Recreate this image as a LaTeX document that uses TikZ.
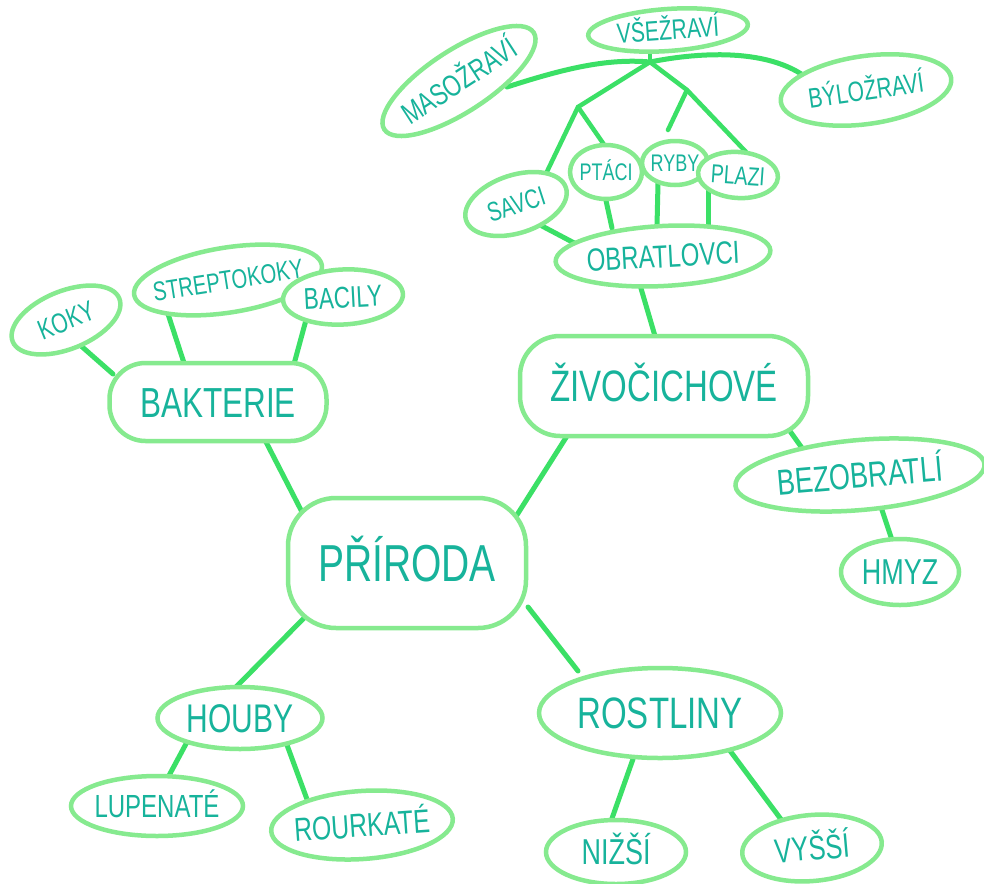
\documentclass[tikz,border=0pt]{standalone}
\usepackage{fontspec}
\setmainfont{Liberation Sans}[FakeStretch=0.75]
\usetikzlibrary{shapes.geometric}
\definecolor{ring}{HTML}{86EA8F}
\definecolor{link}{HTML}{3BE066}
\definecolor{ink}{HTML}{17B39B}
\pgfdeclarelayer{bg}
\pgfsetlayers{bg,main}
\newcommand\mmlab[1]{\makebox[0pt]{\smash{\raisebox{-0.36em}{#1}}}}
\tikzset{
  bub/.style={ellipse, draw=ring, line width=4.5pt, fill=white, inner sep=0pt, text=ink},
  blob/.style={rectangle, draw=ring, line width=4.5pt, fill=white, inner sep=0pt, text=ink, rounded corners=#1},
  fs/.style={font=\fontsize{#1}{#1}\selectfont},
  wire/.style={draw=link, line width=5pt, line cap=round, line join=round},
  twig/.style={draw=link, line width=4.5pt, line cap=round, line join=round},
}
\begin{document}
\begin{tikzpicture}[x=1pt,y=-1pt]
\useasboundingbox (0,0) rectangle (984,883);
\begin{pgfonlayer}{bg}
\fill[white] (0,0) rectangle (984,883);
\end{pgfonlayer}

% main
\node[blob=48, minimum width=238pt, minimum height=130pt, fs=52] (pri) at (407,563) {\mmlab{PŘÍRODA}};
\node[blob=40, minimum width=288pt, minimum height=100pt, fs=44] (ziv) at (664,386) {\mmlab{ŽIVOČICHOVÉ}};
\node[blob=36, minimum width=217pt, minimum height=78pt, fs=42] (bak) at (218,402) {\mmlab{BAKTERIE}};
\node[bub, minimum width=242pt, minimum height=90pt, fs=44] (rost) at (660,713) {\mmlab{ROSTLINY}};
\node[bub, minimum width=165pt, minimum height=62pt, fs=40] (houby) at (240,718) {\mmlab{HOUBY}};
% leaves
\node[bub, minimum width=172pt, minimum height=60pt, fs=32] (lup) at (157,806) {\mmlab{LUPENATÉ}};
\node[bub, rotate=4, minimum width=182pt, minimum height=68pt, fs=33] (rour) at (362,825) {\mmlab{ROURKATÉ}};
\node[bub, minimum width=140pt, minimum height=64pt, fs=36] (nizsi) at (616,852) {\mmlab{NIŽŠÍ}};
\node[bub, rotate=5, minimum width=140pt, minimum height=66pt, fs=34] (vyssi) at (812,848) {\mmlab{VYŠŠÍ}};
\node[bub, rotate=3, minimum width=215pt, minimum height=60pt, fs=32] (obrat) at (663,256) {\mmlab{OBRATLOVCI}};
\node[bub, rotate=18, minimum width=105pt, minimum height=58pt, fs=27] (savci) at (516,204) {\mmlab{SAVCI}};
\node[bub, minimum width=72pt, minimum height=54pt, fs=24] (ptaci) at (606,172) {\mmlab{PTÁCI}};
\node[bub, minimum width=66pt, minimum height=44pt, fs=24] (ryby) at (675,163) {\mmlab{RYBY}};
\node[bub, rotate=-4, minimum width=80pt, minimum height=46pt, fs=26] (plazi) at (738,175) {\mmlab{PLAZI}};
\node[bub, rotate=33, minimum width=178pt, minimum height=62pt, fs=30] (maso) at (459,81) {\mmlab{MASOŽRAVÍ}};
\node[bub, rotate=4, minimum width=160pt, minimum height=42pt, fs=28] (vse) at (668,30) {\mmlab{VŠEŽRAVÍ}};
\node[bub, rotate=8, minimum width=172pt, minimum height=68pt, fs=28] (bylo) at (866,90) {\mmlab{BÝLOŽRAVÍ}};
\node[bub, rotate=5, minimum width=250pt, minimum height=70pt, fs=36] (bezo) at (860,475) {\mmlab{BEZOBRATLÍ}};
\node[bub, minimum width=118pt, minimum height=66pt, fs=36] (hmyz) at (900,572) {\mmlab{HMYZ}};
\node[bub, rotate=22, minimum width=115pt, minimum height=58pt, fs=28] (koky) at (66,320) {\mmlab{KOKY}};
\node[bub, rotate=9, minimum width=190pt, minimum height=65pt, fs=27] (strep) at (228,280) {\mmlab{STREPTOKOKY}};
\node[bub, rotate=3, minimum width=120pt, minimum height=55pt, fs=30] (bacily) at (343,297) {\mmlab{BACILY}};

\coordinate (hub) at (650,62);
\coordinate (j1) at (578,107);
\coordinate (j2) at (687,90);

\begin{pgfonlayer}{bg}
\draw[wire] ([shift={(14,25)}]koky.center) -- ([shift={(-105,-28)}]bak.center);
\draw[wire] ([shift={(-60,34)}]strep.center) -- ([shift={(-33,-36)}]bak.center);
\draw[wire] ([shift={(-37,23)}]bacily.center) -- ([shift={(76,-38)}]bak.center);
\draw[wire] ([shift={(47,38)}]bak.center) -- ([shift={(-105,-51)}]pri.center);
\draw[wire] ([shift={(-97,50)}]ziv.center) -- ([shift={(108,-45)}]pri.center);
\draw[wire] ([shift={(-102,54)}]pri.center) -- ([shift={(-5,-30)}]houby.center);
\draw[wire] ([shift={(121,44)}]pri.center) -- ([shift={(-82,-42)}]rost.center);
\draw[wire] ([shift={(-53,24)}]houby.center) -- ([shift={(8,-23)}]lup.center);
\draw[wire] ([shift={(47,27)}]houby.center) -- ([shift={(-54,-23)}]rour.center);
\draw[wire] ([shift={(-27,46)}]rost.center) -- ([shift={(-6,-28)}]nizsi.center);
\draw[wire] ([shift={(68,35)}]rost.center) -- ([shift={(-29,-26)}]vyssi.center);
\draw[wire] ([shift={(-23,29)}]obrat.center) -- ([shift={(-9,-50)}]ziv.center);
\draw[wire] ([shift={(118,34)}]ziv.center) -- ([shift={(-53,-20)}]bezo.center);
\draw[wire] ([shift={(18,23)}]bezo.center) -- ([shift={(-7,-29)}]hmyz.center);
\draw[wire] ([shift={(26,22)}]savci.center) -- ([shift={(-85,-11)}]obrat.center);
\draw[wire] ([shift={(-1,24)}]ptaci.center) -- ([shift={(-51,-28)}]obrat.center);
\draw[wire] ([shift={(-17,20)}]ryby.center) -- ([shift={(-6,-30)}]obrat.center);
\draw[wire] ([shift={(-30,14)}]plazi.center) -- ([shift={(45,-29)}]obrat.center);
% top tree
\draw[twig] ([shift={(-18,18)}]vse.center) -- (hub);
\draw[wire] ([shift={(48,6)}]maso.center) .. controls (560,70) and (605,58) .. (hub)
  .. controls (700,52) and (780,46) .. ([shift={(-48,-2)}]bylo.center);
\draw[twig] (hub) -- (j1) -- ([shift={(26,-22)}]savci.center);
\draw[twig] (j1) -- ([shift={(-1,-26)}]ptaci.center);
\draw[twig] (hub) -- (j2) -- ([shift={(-7,-33)}]ryby.center);
\draw[twig] (j2) -- ([shift={(9,-22)}]plazi.center);
\end{pgfonlayer}
\end{tikzpicture}
\end{document}
